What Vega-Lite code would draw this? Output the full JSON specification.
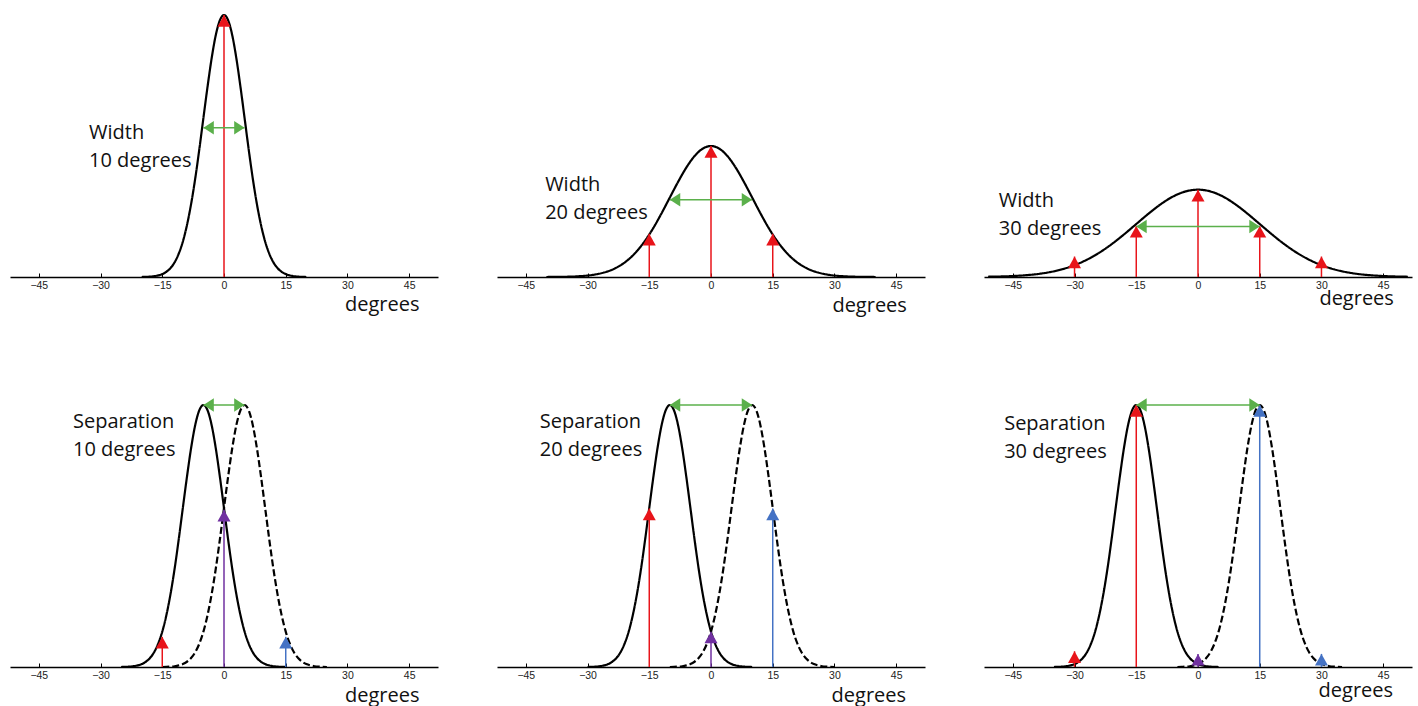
{
"$schema": "https://vega.github.io/schema/vega-lite/v6.json",
"padding": {"left": 10, "top": 10, "right": 0, "bottom": 0},
"config": {"view": {"stroke": null}, "font": "Open Sans"},
"data": {"values": [
{"k":"curve","r":1,"c":1,"s":"a","x":-20,"y":0},{"k":"curve","r":1,"c":1,"s":"a","x":-19,"y":0.0007},{"k":"curve","r":1,"c":1,"s":"a","x":-18,"y":0.0015},{"k":"curve","r":1,"c":1,"s":"a","x":-17,"y":0.003},{"k":"curve","r":1,"c":1,"s":"a","x":-16,"y":0.006},{"k":"curve","r":1,"c":1,"s":"a","x":-15,"y":0.011},{"k":"curve","r":1,"c":1,"s":"a","x":-14,"y":0.02},{"k":"curve","r":1,"c":1,"s":"a","x":-13,"y":0.034},{"k":"curve","r":1,"c":1,"s":"a","x":-12,"y":0.056},{"k":"curve","r":1,"c":1,"s":"a","x":-11,"y":0.089},{"k":"curve","r":1,"c":1,"s":"a","x":-10,"y":0.135},{"k":"curve","r":1,"c":1,"s":"a","x":-9,"y":0.198},{"k":"curve","r":1,"c":1,"s":"a","x":-8,"y":0.278},{"k":"curve","r":1,"c":1,"s":"a","x":-7,"y":0.375},{"k":"curve","r":1,"c":1,"s":"a","x":-6,"y":0.487},{"k":"curve","r":1,"c":1,"s":"a","x":-5,"y":0.607},{"k":"curve","r":1,"c":1,"s":"a","x":-4,"y":0.726},{"k":"curve","r":1,"c":1,"s":"a","x":-3,"y":0.835},{"k":"curve","r":1,"c":1,"s":"a","x":-2,"y":0.923},{"k":"curve","r":1,"c":1,"s":"a","x":-1,"y":0.98},{"k":"curve","r":1,"c":1,"s":"a","x":0,"y":1},{"k":"curve","r":1,"c":1,"s":"a","x":1,"y":0.98},{"k":"curve","r":1,"c":1,"s":"a","x":2,"y":0.923},{"k":"curve","r":1,"c":1,"s":"a","x":3,"y":0.835},{"k":"curve","r":1,"c":1,"s":"a","x":4,"y":0.726},{"k":"curve","r":1,"c":1,"s":"a","x":5,"y":0.607},{"k":"curve","r":1,"c":1,"s":"a","x":6,"y":0.487},{"k":"curve","r":1,"c":1,"s":"a","x":7,"y":0.375},{"k":"curve","r":1,"c":1,"s":"a","x":8,"y":0.278},{"k":"curve","r":1,"c":1,"s":"a","x":9,"y":0.198},{"k":"curve","r":1,"c":1,"s":"a","x":10,"y":0.135},{"k":"curve","r":1,"c":1,"s":"a","x":11,"y":0.089},{"k":"curve","r":1,"c":1,"s":"a","x":12,"y":0.056},{"k":"curve","r":1,"c":1,"s":"a","x":13,"y":0.034},{"k":"curve","r":1,"c":1,"s":"a","x":14,"y":0.02},{"k":"curve","r":1,"c":1,"s":"a","x":15,"y":0.011},{"k":"curve","r":1,"c":1,"s":"a","x":16,"y":0.006},{"k":"curve","r":1,"c":1,"s":"a","x":17,"y":0.003},{"k":"curve","r":1,"c":1,"s":"a","x":18,"y":0.0015},{"k":"curve","r":1,"c":1,"s":"a","x":19,"y":0.0007},{"k":"curve","r":1,"c":1,"s":"a","x":20,"y":0},
{"k":"curve","r":1,"c":2,"s":"a","x":-40,"y":0},{"k":"curve","r":1,"c":2,"s":"a","x":-38,"y":0.0004},{"k":"curve","r":1,"c":2,"s":"a","x":-36,"y":0.0008},{"k":"curve","r":1,"c":2,"s":"a","x":-34,"y":0.0015},{"k":"curve","r":1,"c":2,"s":"a","x":-32,"y":0.003},{"k":"curve","r":1,"c":2,"s":"a","x":-30,"y":0.0055},{"k":"curve","r":1,"c":2,"s":"a","x":-28,"y":0.01},{"k":"curve","r":1,"c":2,"s":"a","x":-26,"y":0.017},{"k":"curve","r":1,"c":2,"s":"a","x":-24,"y":0.028},{"k":"curve","r":1,"c":2,"s":"a","x":-22,"y":0.0445},{"k":"curve","r":1,"c":2,"s":"a","x":-20,"y":0.0675},{"k":"curve","r":1,"c":2,"s":"a","x":-18,"y":0.099},{"k":"curve","r":1,"c":2,"s":"a","x":-16,"y":0.139},{"k":"curve","r":1,"c":2,"s":"a","x":-14,"y":0.1875},{"k":"curve","r":1,"c":2,"s":"a","x":-12,"y":0.2435},{"k":"curve","r":1,"c":2,"s":"a","x":-10,"y":0.3035},{"k":"curve","r":1,"c":2,"s":"a","x":-8,"y":0.363},{"k":"curve","r":1,"c":2,"s":"a","x":-6,"y":0.4175},{"k":"curve","r":1,"c":2,"s":"a","x":-4,"y":0.4615},{"k":"curve","r":1,"c":2,"s":"a","x":-2,"y":0.49},{"k":"curve","r":1,"c":2,"s":"a","x":0,"y":0.5},{"k":"curve","r":1,"c":2,"s":"a","x":2,"y":0.49},{"k":"curve","r":1,"c":2,"s":"a","x":4,"y":0.4615},{"k":"curve","r":1,"c":2,"s":"a","x":6,"y":0.4175},{"k":"curve","r":1,"c":2,"s":"a","x":8,"y":0.363},{"k":"curve","r":1,"c":2,"s":"a","x":10,"y":0.3035},{"k":"curve","r":1,"c":2,"s":"a","x":12,"y":0.2435},{"k":"curve","r":1,"c":2,"s":"a","x":14,"y":0.1875},{"k":"curve","r":1,"c":2,"s":"a","x":16,"y":0.139},{"k":"curve","r":1,"c":2,"s":"a","x":18,"y":0.099},{"k":"curve","r":1,"c":2,"s":"a","x":20,"y":0.0675},{"k":"curve","r":1,"c":2,"s":"a","x":22,"y":0.0445},{"k":"curve","r":1,"c":2,"s":"a","x":24,"y":0.028},{"k":"curve","r":1,"c":2,"s":"a","x":26,"y":0.017},{"k":"curve","r":1,"c":2,"s":"a","x":28,"y":0.01},{"k":"curve","r":1,"c":2,"s":"a","x":30,"y":0.0055},{"k":"curve","r":1,"c":2,"s":"a","x":32,"y":0.003},{"k":"curve","r":1,"c":2,"s":"a","x":34,"y":0.0015},{"k":"curve","r":1,"c":2,"s":"a","x":36,"y":0.0008},{"k":"curve","r":1,"c":2,"s":"a","x":38,"y":0.0004},{"k":"curve","r":1,"c":2,"s":"a","x":40,"y":0},
{"k":"curve","r":1,"c":3,"s":"a","x":-51,"y":0.001},{"k":"curve","r":1,"c":3,"s":"a","x":-48,"y":0.002},{"k":"curve","r":1,"c":3,"s":"a","x":-45,"y":0.0037},{"k":"curve","r":1,"c":3,"s":"a","x":-42,"y":0.0066},{"k":"curve","r":1,"c":3,"s":"a","x":-39,"y":0.0113},{"k":"curve","r":1,"c":3,"s":"a","x":-36,"y":0.0187},{"k":"curve","r":1,"c":3,"s":"a","x":-33,"y":0.0296},{"k":"curve","r":1,"c":3,"s":"a","x":-30,"y":0.0451},{"k":"curve","r":1,"c":3,"s":"a","x":-27,"y":0.066},{"k":"curve","r":1,"c":3,"s":"a","x":-24,"y":0.0927},{"k":"curve","r":1,"c":3,"s":"a","x":-21,"y":0.1251},{"k":"curve","r":1,"c":3,"s":"a","x":-18,"y":0.1623},{"k":"curve","r":1,"c":3,"s":"a","x":-15,"y":0.2022},{"k":"curve","r":1,"c":3,"s":"a","x":-12,"y":0.242},{"k":"curve","r":1,"c":3,"s":"a","x":-9,"y":0.2784},{"k":"curve","r":1,"c":3,"s":"a","x":-6,"y":0.3077},{"k":"curve","r":1,"c":3,"s":"a","x":-3,"y":0.3267},{"k":"curve","r":1,"c":3,"s":"a","x":0,"y":0.3333},{"k":"curve","r":1,"c":3,"s":"a","x":3,"y":0.3267},{"k":"curve","r":1,"c":3,"s":"a","x":6,"y":0.3077},{"k":"curve","r":1,"c":3,"s":"a","x":9,"y":0.2784},{"k":"curve","r":1,"c":3,"s":"a","x":12,"y":0.242},{"k":"curve","r":1,"c":3,"s":"a","x":15,"y":0.2022},{"k":"curve","r":1,"c":3,"s":"a","x":18,"y":0.1623},{"k":"curve","r":1,"c":3,"s":"a","x":21,"y":0.1251},{"k":"curve","r":1,"c":3,"s":"a","x":24,"y":0.0927},{"k":"curve","r":1,"c":3,"s":"a","x":27,"y":0.066},{"k":"curve","r":1,"c":3,"s":"a","x":30,"y":0.0451},{"k":"curve","r":1,"c":3,"s":"a","x":33,"y":0.0296},{"k":"curve","r":1,"c":3,"s":"a","x":36,"y":0.0187},{"k":"curve","r":1,"c":3,"s":"a","x":39,"y":0.0113},{"k":"curve","r":1,"c":3,"s":"a","x":42,"y":0.0066},{"k":"curve","r":1,"c":3,"s":"a","x":45,"y":0.0037},{"k":"curve","r":1,"c":3,"s":"a","x":48,"y":0.002},{"k":"curve","r":1,"c":3,"s":"a","x":51,"y":0.001},
{"k":"curve","r":2,"c":1,"s":"a","x":-25,"y":0},{"k":"curve","r":2,"c":1,"s":"a","x":-24,"y":0.0007},{"k":"curve","r":2,"c":1,"s":"a","x":-23,"y":0.0015},{"k":"curve","r":2,"c":1,"s":"a","x":-22,"y":0.003},{"k":"curve","r":2,"c":1,"s":"a","x":-21,"y":0.006},{"k":"curve","r":2,"c":1,"s":"a","x":-20,"y":0.011},{"k":"curve","r":2,"c":1,"s":"a","x":-19,"y":0.02},{"k":"curve","r":2,"c":1,"s":"a","x":-18,"y":0.034},{"k":"curve","r":2,"c":1,"s":"a","x":-17,"y":0.056},{"k":"curve","r":2,"c":1,"s":"a","x":-16,"y":0.089},{"k":"curve","r":2,"c":1,"s":"a","x":-15,"y":0.135},{"k":"curve","r":2,"c":1,"s":"a","x":-14,"y":0.198},{"k":"curve","r":2,"c":1,"s":"a","x":-13,"y":0.278},{"k":"curve","r":2,"c":1,"s":"a","x":-12,"y":0.375},{"k":"curve","r":2,"c":1,"s":"a","x":-11,"y":0.487},{"k":"curve","r":2,"c":1,"s":"a","x":-10,"y":0.607},{"k":"curve","r":2,"c":1,"s":"a","x":-9,"y":0.726},{"k":"curve","r":2,"c":1,"s":"a","x":-8,"y":0.835},{"k":"curve","r":2,"c":1,"s":"a","x":-7,"y":0.923},{"k":"curve","r":2,"c":1,"s":"a","x":-6,"y":0.98},{"k":"curve","r":2,"c":1,"s":"a","x":-5,"y":1},{"k":"curve","r":2,"c":1,"s":"a","x":-4,"y":0.98},{"k":"curve","r":2,"c":1,"s":"a","x":-3,"y":0.923},{"k":"curve","r":2,"c":1,"s":"a","x":-2,"y":0.835},{"k":"curve","r":2,"c":1,"s":"a","x":-1,"y":0.726},{"k":"curve","r":2,"c":1,"s":"a","x":0,"y":0.607},{"k":"curve","r":2,"c":1,"s":"a","x":1,"y":0.487},{"k":"curve","r":2,"c":1,"s":"a","x":2,"y":0.375},{"k":"curve","r":2,"c":1,"s":"a","x":3,"y":0.278},{"k":"curve","r":2,"c":1,"s":"a","x":4,"y":0.198},{"k":"curve","r":2,"c":1,"s":"a","x":5,"y":0.135},{"k":"curve","r":2,"c":1,"s":"a","x":6,"y":0.089},{"k":"curve","r":2,"c":1,"s":"a","x":7,"y":0.056},{"k":"curve","r":2,"c":1,"s":"a","x":8,"y":0.034},{"k":"curve","r":2,"c":1,"s":"a","x":9,"y":0.02},{"k":"curve","r":2,"c":1,"s":"a","x":10,"y":0.011},{"k":"curve","r":2,"c":1,"s":"a","x":11,"y":0.006},{"k":"curve","r":2,"c":1,"s":"a","x":12,"y":0.003},{"k":"curve","r":2,"c":1,"s":"a","x":13,"y":0.0015},{"k":"curve","r":2,"c":1,"s":"a","x":14,"y":0.0007},{"k":"curve","r":2,"c":1,"s":"a","x":15,"y":0},
{"k":"curve","r":2,"c":1,"s":"b","x":-15,"y":0},{"k":"curve","r":2,"c":1,"s":"b","x":-14,"y":0.0007},{"k":"curve","r":2,"c":1,"s":"b","x":-13,"y":0.0015},{"k":"curve","r":2,"c":1,"s":"b","x":-12,"y":0.003},{"k":"curve","r":2,"c":1,"s":"b","x":-11,"y":0.006},{"k":"curve","r":2,"c":1,"s":"b","x":-10,"y":0.011},{"k":"curve","r":2,"c":1,"s":"b","x":-9,"y":0.02},{"k":"curve","r":2,"c":1,"s":"b","x":-8,"y":0.034},{"k":"curve","r":2,"c":1,"s":"b","x":-7,"y":0.056},{"k":"curve","r":2,"c":1,"s":"b","x":-6,"y":0.089},{"k":"curve","r":2,"c":1,"s":"b","x":-5,"y":0.135},{"k":"curve","r":2,"c":1,"s":"b","x":-4,"y":0.198},{"k":"curve","r":2,"c":1,"s":"b","x":-3,"y":0.278},{"k":"curve","r":2,"c":1,"s":"b","x":-2,"y":0.375},{"k":"curve","r":2,"c":1,"s":"b","x":-1,"y":0.487},{"k":"curve","r":2,"c":1,"s":"b","x":0,"y":0.607},{"k":"curve","r":2,"c":1,"s":"b","x":1,"y":0.726},{"k":"curve","r":2,"c":1,"s":"b","x":2,"y":0.835},{"k":"curve","r":2,"c":1,"s":"b","x":3,"y":0.923},{"k":"curve","r":2,"c":1,"s":"b","x":4,"y":0.98},{"k":"curve","r":2,"c":1,"s":"b","x":5,"y":1},{"k":"curve","r":2,"c":1,"s":"b","x":6,"y":0.98},{"k":"curve","r":2,"c":1,"s":"b","x":7,"y":0.923},{"k":"curve","r":2,"c":1,"s":"b","x":8,"y":0.835},{"k":"curve","r":2,"c":1,"s":"b","x":9,"y":0.726},{"k":"curve","r":2,"c":1,"s":"b","x":10,"y":0.607},{"k":"curve","r":2,"c":1,"s":"b","x":11,"y":0.487},{"k":"curve","r":2,"c":1,"s":"b","x":12,"y":0.375},{"k":"curve","r":2,"c":1,"s":"b","x":13,"y":0.278},{"k":"curve","r":2,"c":1,"s":"b","x":14,"y":0.198},{"k":"curve","r":2,"c":1,"s":"b","x":15,"y":0.135},{"k":"curve","r":2,"c":1,"s":"b","x":16,"y":0.089},{"k":"curve","r":2,"c":1,"s":"b","x":17,"y":0.056},{"k":"curve","r":2,"c":1,"s":"b","x":18,"y":0.034},{"k":"curve","r":2,"c":1,"s":"b","x":19,"y":0.02},{"k":"curve","r":2,"c":1,"s":"b","x":20,"y":0.011},{"k":"curve","r":2,"c":1,"s":"b","x":21,"y":0.006},{"k":"curve","r":2,"c":1,"s":"b","x":22,"y":0.003},{"k":"curve","r":2,"c":1,"s":"b","x":23,"y":0.0015},{"k":"curve","r":2,"c":1,"s":"b","x":24,"y":0.0007},{"k":"curve","r":2,"c":1,"s":"b","x":25,"y":0},
{"k":"curve","r":2,"c":2,"s":"a","x":-30,"y":0},{"k":"curve","r":2,"c":2,"s":"a","x":-29,"y":0.0007},{"k":"curve","r":2,"c":2,"s":"a","x":-28,"y":0.0015},{"k":"curve","r":2,"c":2,"s":"a","x":-27,"y":0.003},{"k":"curve","r":2,"c":2,"s":"a","x":-26,"y":0.006},{"k":"curve","r":2,"c":2,"s":"a","x":-25,"y":0.011},{"k":"curve","r":2,"c":2,"s":"a","x":-24,"y":0.02},{"k":"curve","r":2,"c":2,"s":"a","x":-23,"y":0.034},{"k":"curve","r":2,"c":2,"s":"a","x":-22,"y":0.056},{"k":"curve","r":2,"c":2,"s":"a","x":-21,"y":0.089},{"k":"curve","r":2,"c":2,"s":"a","x":-20,"y":0.135},{"k":"curve","r":2,"c":2,"s":"a","x":-19,"y":0.198},{"k":"curve","r":2,"c":2,"s":"a","x":-18,"y":0.278},{"k":"curve","r":2,"c":2,"s":"a","x":-17,"y":0.375},{"k":"curve","r":2,"c":2,"s":"a","x":-16,"y":0.487},{"k":"curve","r":2,"c":2,"s":"a","x":-15,"y":0.607},{"k":"curve","r":2,"c":2,"s":"a","x":-14,"y":0.726},{"k":"curve","r":2,"c":2,"s":"a","x":-13,"y":0.835},{"k":"curve","r":2,"c":2,"s":"a","x":-12,"y":0.923},{"k":"curve","r":2,"c":2,"s":"a","x":-11,"y":0.98},{"k":"curve","r":2,"c":2,"s":"a","x":-10,"y":1},{"k":"curve","r":2,"c":2,"s":"a","x":-9,"y":0.98},{"k":"curve","r":2,"c":2,"s":"a","x":-8,"y":0.923},{"k":"curve","r":2,"c":2,"s":"a","x":-7,"y":0.835},{"k":"curve","r":2,"c":2,"s":"a","x":-6,"y":0.726},{"k":"curve","r":2,"c":2,"s":"a","x":-5,"y":0.607},{"k":"curve","r":2,"c":2,"s":"a","x":-4,"y":0.487},{"k":"curve","r":2,"c":2,"s":"a","x":-3,"y":0.375},{"k":"curve","r":2,"c":2,"s":"a","x":-2,"y":0.278},{"k":"curve","r":2,"c":2,"s":"a","x":-1,"y":0.198},{"k":"curve","r":2,"c":2,"s":"a","x":0,"y":0.135},{"k":"curve","r":2,"c":2,"s":"a","x":1,"y":0.089},{"k":"curve","r":2,"c":2,"s":"a","x":2,"y":0.056},{"k":"curve","r":2,"c":2,"s":"a","x":3,"y":0.034},{"k":"curve","r":2,"c":2,"s":"a","x":4,"y":0.02},{"k":"curve","r":2,"c":2,"s":"a","x":5,"y":0.011},{"k":"curve","r":2,"c":2,"s":"a","x":6,"y":0.006},{"k":"curve","r":2,"c":2,"s":"a","x":7,"y":0.003},{"k":"curve","r":2,"c":2,"s":"a","x":8,"y":0.0015},{"k":"curve","r":2,"c":2,"s":"a","x":9,"y":0.0007},{"k":"curve","r":2,"c":2,"s":"a","x":10,"y":0},
{"k":"curve","r":2,"c":2,"s":"b","x":-10,"y":0},{"k":"curve","r":2,"c":2,"s":"b","x":-9,"y":0.0007},{"k":"curve","r":2,"c":2,"s":"b","x":-8,"y":0.0015},{"k":"curve","r":2,"c":2,"s":"b","x":-7,"y":0.003},{"k":"curve","r":2,"c":2,"s":"b","x":-6,"y":0.006},{"k":"curve","r":2,"c":2,"s":"b","x":-5,"y":0.011},{"k":"curve","r":2,"c":2,"s":"b","x":-4,"y":0.02},{"k":"curve","r":2,"c":2,"s":"b","x":-3,"y":0.034},{"k":"curve","r":2,"c":2,"s":"b","x":-2,"y":0.056},{"k":"curve","r":2,"c":2,"s":"b","x":-1,"y":0.089},{"k":"curve","r":2,"c":2,"s":"b","x":0,"y":0.135},{"k":"curve","r":2,"c":2,"s":"b","x":1,"y":0.198},{"k":"curve","r":2,"c":2,"s":"b","x":2,"y":0.278},{"k":"curve","r":2,"c":2,"s":"b","x":3,"y":0.375},{"k":"curve","r":2,"c":2,"s":"b","x":4,"y":0.487},{"k":"curve","r":2,"c":2,"s":"b","x":5,"y":0.607},{"k":"curve","r":2,"c":2,"s":"b","x":6,"y":0.726},{"k":"curve","r":2,"c":2,"s":"b","x":7,"y":0.835},{"k":"curve","r":2,"c":2,"s":"b","x":8,"y":0.923},{"k":"curve","r":2,"c":2,"s":"b","x":9,"y":0.98},{"k":"curve","r":2,"c":2,"s":"b","x":10,"y":1},{"k":"curve","r":2,"c":2,"s":"b","x":11,"y":0.98},{"k":"curve","r":2,"c":2,"s":"b","x":12,"y":0.923},{"k":"curve","r":2,"c":2,"s":"b","x":13,"y":0.835},{"k":"curve","r":2,"c":2,"s":"b","x":14,"y":0.726},{"k":"curve","r":2,"c":2,"s":"b","x":15,"y":0.607},{"k":"curve","r":2,"c":2,"s":"b","x":16,"y":0.487},{"k":"curve","r":2,"c":2,"s":"b","x":17,"y":0.375},{"k":"curve","r":2,"c":2,"s":"b","x":18,"y":0.278},{"k":"curve","r":2,"c":2,"s":"b","x":19,"y":0.198},{"k":"curve","r":2,"c":2,"s":"b","x":20,"y":0.135},{"k":"curve","r":2,"c":2,"s":"b","x":21,"y":0.089},{"k":"curve","r":2,"c":2,"s":"b","x":22,"y":0.056},{"k":"curve","r":2,"c":2,"s":"b","x":23,"y":0.034},{"k":"curve","r":2,"c":2,"s":"b","x":24,"y":0.02},{"k":"curve","r":2,"c":2,"s":"b","x":25,"y":0.011},{"k":"curve","r":2,"c":2,"s":"b","x":26,"y":0.006},{"k":"curve","r":2,"c":2,"s":"b","x":27,"y":0.003},{"k":"curve","r":2,"c":2,"s":"b","x":28,"y":0.0015},{"k":"curve","r":2,"c":2,"s":"b","x":29,"y":0.0007},{"k":"curve","r":2,"c":2,"s":"b","x":30,"y":0},
{"k":"curve","r":2,"c":3,"s":"a","x":-35,"y":0},{"k":"curve","r":2,"c":3,"s":"a","x":-34,"y":0.0007},{"k":"curve","r":2,"c":3,"s":"a","x":-33,"y":0.0015},{"k":"curve","r":2,"c":3,"s":"a","x":-32,"y":0.003},{"k":"curve","r":2,"c":3,"s":"a","x":-31,"y":0.006},{"k":"curve","r":2,"c":3,"s":"a","x":-30,"y":0.011},{"k":"curve","r":2,"c":3,"s":"a","x":-29,"y":0.02},{"k":"curve","r":2,"c":3,"s":"a","x":-28,"y":0.034},{"k":"curve","r":2,"c":3,"s":"a","x":-27,"y":0.056},{"k":"curve","r":2,"c":3,"s":"a","x":-26,"y":0.089},{"k":"curve","r":2,"c":3,"s":"a","x":-25,"y":0.135},{"k":"curve","r":2,"c":3,"s":"a","x":-24,"y":0.198},{"k":"curve","r":2,"c":3,"s":"a","x":-23,"y":0.278},{"k":"curve","r":2,"c":3,"s":"a","x":-22,"y":0.375},{"k":"curve","r":2,"c":3,"s":"a","x":-21,"y":0.487},{"k":"curve","r":2,"c":3,"s":"a","x":-20,"y":0.607},{"k":"curve","r":2,"c":3,"s":"a","x":-19,"y":0.726},{"k":"curve","r":2,"c":3,"s":"a","x":-18,"y":0.835},{"k":"curve","r":2,"c":3,"s":"a","x":-17,"y":0.923},{"k":"curve","r":2,"c":3,"s":"a","x":-16,"y":0.98},{"k":"curve","r":2,"c":3,"s":"a","x":-15,"y":1},{"k":"curve","r":2,"c":3,"s":"a","x":-14,"y":0.98},{"k":"curve","r":2,"c":3,"s":"a","x":-13,"y":0.923},{"k":"curve","r":2,"c":3,"s":"a","x":-12,"y":0.835},{"k":"curve","r":2,"c":3,"s":"a","x":-11,"y":0.726},{"k":"curve","r":2,"c":3,"s":"a","x":-10,"y":0.607},{"k":"curve","r":2,"c":3,"s":"a","x":-9,"y":0.487},{"k":"curve","r":2,"c":3,"s":"a","x":-8,"y":0.375},{"k":"curve","r":2,"c":3,"s":"a","x":-7,"y":0.278},{"k":"curve","r":2,"c":3,"s":"a","x":-6,"y":0.198},{"k":"curve","r":2,"c":3,"s":"a","x":-5,"y":0.135},{"k":"curve","r":2,"c":3,"s":"a","x":-4,"y":0.089},{"k":"curve","r":2,"c":3,"s":"a","x":-3,"y":0.056},{"k":"curve","r":2,"c":3,"s":"a","x":-2,"y":0.034},{"k":"curve","r":2,"c":3,"s":"a","x":-1,"y":0.02},{"k":"curve","r":2,"c":3,"s":"a","x":0,"y":0.011},{"k":"curve","r":2,"c":3,"s":"a","x":1,"y":0.006},{"k":"curve","r":2,"c":3,"s":"a","x":2,"y":0.003},{"k":"curve","r":2,"c":3,"s":"a","x":3,"y":0.0015},{"k":"curve","r":2,"c":3,"s":"a","x":4,"y":0.0007},{"k":"curve","r":2,"c":3,"s":"a","x":5,"y":0},
{"k":"curve","r":2,"c":3,"s":"b","x":-5,"y":0},{"k":"curve","r":2,"c":3,"s":"b","x":-4,"y":0.0007},{"k":"curve","r":2,"c":3,"s":"b","x":-3,"y":0.0015},{"k":"curve","r":2,"c":3,"s":"b","x":-2,"y":0.003},{"k":"curve","r":2,"c":3,"s":"b","x":-1,"y":0.006},{"k":"curve","r":2,"c":3,"s":"b","x":0,"y":0.011},{"k":"curve","r":2,"c":3,"s":"b","x":1,"y":0.02},{"k":"curve","r":2,"c":3,"s":"b","x":2,"y":0.034},{"k":"curve","r":2,"c":3,"s":"b","x":3,"y":0.056},{"k":"curve","r":2,"c":3,"s":"b","x":4,"y":0.089},{"k":"curve","r":2,"c":3,"s":"b","x":5,"y":0.135},{"k":"curve","r":2,"c":3,"s":"b","x":6,"y":0.198},{"k":"curve","r":2,"c":3,"s":"b","x":7,"y":0.278},{"k":"curve","r":2,"c":3,"s":"b","x":8,"y":0.375},{"k":"curve","r":2,"c":3,"s":"b","x":9,"y":0.487},{"k":"curve","r":2,"c":3,"s":"b","x":10,"y":0.607},{"k":"curve","r":2,"c":3,"s":"b","x":11,"y":0.726},{"k":"curve","r":2,"c":3,"s":"b","x":12,"y":0.835},{"k":"curve","r":2,"c":3,"s":"b","x":13,"y":0.923},{"k":"curve","r":2,"c":3,"s":"b","x":14,"y":0.98},{"k":"curve","r":2,"c":3,"s":"b","x":15,"y":1},{"k":"curve","r":2,"c":3,"s":"b","x":16,"y":0.98},{"k":"curve","r":2,"c":3,"s":"b","x":17,"y":0.923},{"k":"curve","r":2,"c":3,"s":"b","x":18,"y":0.835},{"k":"curve","r":2,"c":3,"s":"b","x":19,"y":0.726},{"k":"curve","r":2,"c":3,"s":"b","x":20,"y":0.607},{"k":"curve","r":2,"c":3,"s":"b","x":21,"y":0.487},{"k":"curve","r":2,"c":3,"s":"b","x":22,"y":0.375},{"k":"curve","r":2,"c":3,"s":"b","x":23,"y":0.278},{"k":"curve","r":2,"c":3,"s":"b","x":24,"y":0.198},{"k":"curve","r":2,"c":3,"s":"b","x":25,"y":0.135},{"k":"curve","r":2,"c":3,"s":"b","x":26,"y":0.089},{"k":"curve","r":2,"c":3,"s":"b","x":27,"y":0.056},{"k":"curve","r":2,"c":3,"s":"b","x":28,"y":0.034},{"k":"curve","r":2,"c":3,"s":"b","x":29,"y":0.02},{"k":"curve","r":2,"c":3,"s":"b","x":30,"y":0.011},{"k":"curve","r":2,"c":3,"s":"b","x":31,"y":0.006},{"k":"curve","r":2,"c":3,"s":"b","x":32,"y":0.003},{"k":"curve","r":2,"c":3,"s":"b","x":33,"y":0.0015},{"k":"curve","r":2,"c":3,"s":"b","x":34,"y":0.0007},{"k":"curve","r":2,"c":3,"s":"b","x":35,"y":0},
{"k":"arrow","r":1,"c":1,"g":"A","x":0,"y":1.0},
{"k":"arrow","r":1,"c":2,"g":"A","x":-15,"y":0.165},{"k":"arrow","r":1,"c":2,"g":"A","x":0,"y":0.5},{"k":"arrow","r":1,"c":2,"g":"A","x":15,"y":0.165},
{"k":"arrow","r":1,"c":3,"g":"A","x":-30,"y":0.078},{"k":"arrow","r":1,"c":3,"g":"A","x":-15,"y":0.195},{"k":"arrow","r":1,"c":3,"g":"A","x":0,"y":0.333},{"k":"arrow","r":1,"c":3,"g":"A","x":15,"y":0.195},{"k":"arrow","r":1,"c":3,"g":"A","x":30,"y":0.078},
{"k":"arrow","r":2,"c":1,"g":"A","x":-15,"y":0.115},{"k":"arrow","r":2,"c":1,"g":"M","x":0,"y":0.6},{"k":"arrow","r":2,"c":1,"g":"B","x":15,"y":0.115},
{"k":"arrow","r":2,"c":2,"g":"A","x":-15,"y":0.605},{"k":"arrow","r":2,"c":2,"g":"M","x":0,"y":0.135},{"k":"arrow","r":2,"c":2,"g":"B","x":15,"y":0.605},
{"k":"arrow","r":2,"c":3,"g":"A","x":-30,"y":0.06},{"k":"arrow","r":2,"c":3,"g":"A","x":-15,"y":1.0},{"k":"arrow","r":2,"c":3,"g":"M","x":0,"y":0.05},{"k":"arrow","r":2,"c":3,"g":"B","x":15,"y":1.0},{"k":"arrow","r":2,"c":3,"g":"B","x":30,"y":0.05},
{"k":"span","r":1,"c":1,"g":"W","x":-5,"x2":5,"y":0.57},
{"k":"span","r":1,"c":2,"g":"W","x":-10,"x2":10,"y":0.295},
{"k":"span","r":1,"c":3,"g":"W","x":-15,"x2":15,"y":0.193},
{"k":"span","r":2,"c":1,"g":"W","x":-5,"x2":5,"y":1.0},
{"k":"span","r":2,"c":2,"g":"W","x":-10,"x2":10,"y":1.0},
{"k":"span","r":2,"c":3,"g":"W","x":-15,"x2":15,"y":1.0},
{"k":"label","r":1,"c":1,"t":"Width\n10 degrees","x":-32.8,"y":0.528},
{"k":"label","r":1,"c":2,"t":"Width\n20 degrees","x":-40.3,"y":0.329},
{"k":"label","r":1,"c":3,"t":"Width\n30 degrees","x":-48.4,"y":0.269},
{"k":"label","r":2,"c":1,"t":"Separation\n10 degrees","x":-36.7,"y":0.913},
{"k":"label","r":2,"c":2,"t":"Separation\n20 degrees","x":-41.6,"y":0.912},
{"k":"label","r":2,"c":3,"t":"Separation\n30 degrees","x":-47.1,"y":0.905},
{"k":"xlab","r":1,"c":1,"t":"degrees","x":47.5,"y":-0.131},
{"k":"xlab","r":1,"c":2,"t":"degrees","x":47.6,"y":-0.132},
{"k":"xlab","r":1,"c":3,"t":"degrees","x":47.6,"y":-0.106},
{"k":"xlab","r":2,"c":1,"t":"degrees","x":47.5,"y":-0.134},
{"k":"xlab","r":2,"c":2,"t":"degrees","x":47.4,"y":-0.134},
{"k":"xlab","r":2,"c":3,"t":"degrees","x":47.4,"y":-0.115}
]},
"facet": {
  "row": {"field": "r", "type": "ordinal", "header": {"title": null, "labels": false}},
  "column": {"field": "c", "type": "ordinal", "header": {"title": null, "labels": false}}
},
"spacing": {"row": 128, "column": 59},
"bounds": "flush",
"resolve": {"axis": {"x": "independent"}},
"spec": {
  "width": 428,
  "height": 262,
  "encoding": {
    "x": {"field": "x", "type": "quantitative", "scale": {"domain": [-52, 52], "nice": false, "zero": false},
      "axis": {"values": [-45, -30, -15, 0, 15, 30, 45], "title": null, "grid": false, "domainColor": "#000", "domainWidth": 1.5, "tickColor": "#000", "tickWidth": 1, "tickSize": -4, "labelPadding": 7, "labelFontSize": 10.5, "labelFont": "Liberation Sans", "labelColor": "#222", "labelFlush": false}},
    "y": {"field": "y", "type": "quantitative", "scale": {"domain": [0, 1], "nice": false, "zero": true}, "axis": null}
  },
  "layer": [
    {"transform": [{"filter": "datum.k == 'curve'"}],
     "mark": {"type": "line", "interpolate": "monotone", "strokeWidth": 2.2, "color": "#000"},
     "encoding": {"detail": {"field": "s"}, "strokeDash": {"field": "s", "type": "nominal", "scale": {"domain": ["a", "b"], "range": [[1, 0], [7, 3]]}, "legend": null}}},
    {"transform": [{"filter": "datum.k == 'arrow'"}],
     "mark": {"type": "rule", "strokeWidth": 1.5},
     "encoding": {"y2": {"datum": 0}, "color": {"field": "g", "type": "nominal", "scale": {"domain": ["A", "B", "M", "W"], "range": ["#e8141a", "#4472c4", "#7030a0", "#5bb04b"]}, "legend": null}}},
    {"transform": [{"filter": "datum.k == 'arrow'"}],
     "mark": {"type": "point", "shape": "M0,0L-1,1.8L1,1.8Z", "filled": true, "opacity": 1, "size": 169, "strokeWidth": 0},
     "encoding": {"color": {"field": "g", "type": "nominal", "legend": null}}},
    {"transform": [{"filter": "datum.k == 'span'"}],
     "mark": {"type": "rule", "strokeWidth": 1.5},
     "encoding": {"x2": {"field": "x2"}, "color": {"field": "g", "type": "nominal", "legend": null}}},
    {"transform": [{"filter": "datum.k == 'span'"}],
     "mark": {"type": "point", "shape": "M0,0L1.7,-1.1L1.7,1.1Z", "filled": true, "opacity": 1, "size": 150, "strokeWidth": 0},
     "encoding": {"color": {"field": "g", "type": "nominal", "legend": null}}},
    {"transform": [{"filter": "datum.k == 'span'"}],
     "mark": {"type": "point", "shape": "M0,0L-1.7,-1.1L-1.7,1.1Z", "filled": true, "opacity": 1, "size": 150, "strokeWidth": 0},
     "encoding": {"x": {"field": "x2", "type": "quantitative"}, "color": {"field": "g", "type": "nominal", "legend": null}}},
    {"transform": [{"filter": "datum.k == 'label'"}],
     "mark": {"type": "text", "align": "left", "baseline": "alphabetic", "fontSize": 20, "font": "Open Sans", "lineBreak": "\n", "lineHeight": 28, "color": "#111"},
     "encoding": {"text": {"field": "t"}}},
    {"transform": [{"filter": "datum.k == 'xlab'"}],
     "mark": {"type": "text", "align": "right", "baseline": "alphabetic", "fontSize": 20, "font": "Open Sans", "color": "#111"},
     "encoding": {"text": {"field": "t"}}}
  ]
}
}
